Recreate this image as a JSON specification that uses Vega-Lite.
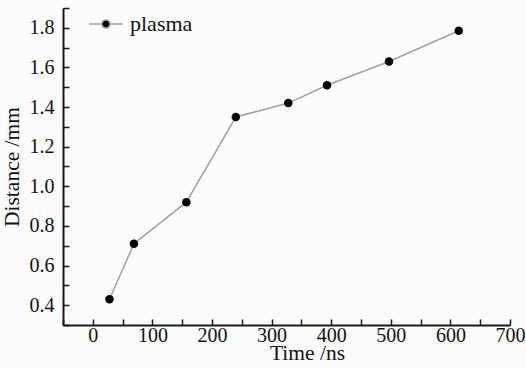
{
  "$schema": "https://vega.github.io/schema/vega-lite/v6.json",
  "width": 447,
  "height": 317,
  "autosize": {"type": "none"},
  "padding": {"left": 63, "top": 8, "right": 16, "bottom": 43},
  "background": "#fcfcfc",
  "config": {
    "view": {"stroke": null},
    "font": "Liberation Serif",
    "axis": {
      "domainColor": "#1a1a1a",
      "domainWidth": 2,
      "tickColor": "#1a1a1a",
      "tickWidth": 1.5,
      "tickSize": -6,
      "ticks": true,
      "grid": false,
      "labelFont": "Liberation Serif",
      "labelFontSize": 20,
      "labelColor": "#111",
      "titleFont": "Liberation Serif",
      "titleFontSize": 21.5,
      "titleFontWeight": "normal",
      "titleColor": "#111"
    }
  },
  "data": {
    "values": [
      {"time": 28, "distance": 0.43, "series": "plasma"},
      {"time": 69, "distance": 0.71, "series": "plasma"},
      {"time": 157, "distance": 0.92, "series": "plasma"},
      {"time": 240, "distance": 1.35, "series": "plasma"},
      {"time": 328, "distance": 1.42, "series": "plasma"},
      {"time": 393, "distance": 1.51, "series": "plasma"},
      {"time": 497, "distance": 1.63, "series": "plasma"},
      {"time": 614, "distance": 1.785, "series": "plasma"}
    ]
  },
  "encoding": {
    "x": {
      "field": "time",
      "type": "quantitative",
      "scale": {"domain": [-50, 700], "nice": false, "zero": false},
      "axis": {
        "title": "Time /ns",
        "values": [-50, 0, 50, 100, 150, 200, 250, 300, 350, 400, 450, 500, 550, 600, 650, 700],
        "labelExpr": "datum.value % 100 === 0 ? datum.label : ''",
        "labelPadding": 6,
        "labelFlush": false,
        "labelOverlap": false,
        "titleX": 244,
        "titleY": 34,
        "titleAlign": "center",
        "titleBaseline": "alphabetic",
        "encode": {
          "ticks": {"update": {"y2": {"signal": "datum.value % 100 === 0 ? -6 : -3"}}}
        }
      }
    },
    "y": {
      "field": "distance",
      "type": "quantitative",
      "scale": {"domain": [0.3, 1.9], "nice": false, "zero": false},
      "axis": {
        "title": "Distance /mm",
        "values": [0.3, 0.4, 0.5, 0.6, 0.7, 0.8, 0.9, 1.0, 1.1, 1.2, 1.3, 1.4, 1.5, 1.6, 1.7, 1.8, 1.9],
        "format": ".1f",
        "labelExpr": "round(datum.value * 10) % 2 === 0 ? datum.label : ''",
        "labelPadding": 15,
        "labelFlush": false,
        "labelOverlap": false,
        "titleX": -45,
        "titleY": 158.5,
        "titleAlign": "center",
        "titleBaseline": "alphabetic",
        "titleAngle": -90,
        "encode": {
          "ticks": {"update": {"x2": {"signal": "round(datum.value * 10) % 2 === 0 ? 6 : 3"}}}
        }
      }
    }
  },
  "layer": [
    {
      "mark": {"type": "line", "strokeWidth": 1.5},
      "encoding": {
        "color": {
          "field": "series",
          "type": "nominal",
          "scale": {"range": ["#a0a0a0"]},
          "legend": {
            "title": null,
            "orient": "none",
            "legendX": 25,
            "legendY": -2,
            "padding": 0,
            "labelFont": "Liberation Serif",
            "labelFontSize": 22,
            "labelColor": "#111",
            "labelOffset": 6,
            "symbolType": "M-1,0L-0.24,0M0.24,0L1,0M-0.24,0A0.24,0.24,0,1,1,0.24,0A0.24,0.24,0,1,1,-0.24,0Z",
            "symbolSize": 1156,
            "symbolStrokeWidth": 1.5,
            "encode": {
              "symbols": {"update": {"fill": {"value": "#000"}, "stroke": {"value": "#a0a0a0"}, "strokeWidth": {"value": 1.5}, "opacity": {"value": 1}}}
            }
          }
        }
      }
    },
    {
      "mark": {"type": "point", "filled": true, "color": "#000", "size": 72, "opacity": 1, "shape": "circle"}
    }
  ]
}
